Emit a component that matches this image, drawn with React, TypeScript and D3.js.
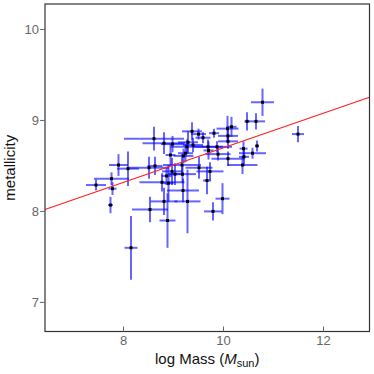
import React from 'react';
import { scaleLinear } from 'd3';

// log stellar mass, metallicity, and their errors
const logMass = [
  7.45, 7.76, 7.78, 7.74, 7.9, 8.09, 8.15, 8.51, 8.61, 8.53, 8.63, 8.81, 8.77, 8.81, 8.88,
  8.86, 8.9, 8.94, 8.98, 8.97, 9.03, 9.17, 9.18, 9.19, 9.2, 9.24, 9.27, 9.29, 9.28, 9.37,
  9.39, 9.5, 9.59, 9.51, 9.69, 9.7, 9.67, 9.73, 9.81, 9.87, 9.89, 9.79, 9.98, 10.08, 10.09,
  10.09, 10.09, 10.16, 10.38, 10.4, 10.41, 10.47, 10.58, 10.65, 10.67, 10.78, 11.49
];
const metallicity = [
  8.29, 8.36, 8.25, 8.07, 8.51, 8.47, 7.6, 8.48, 8.8, 8.02, 8.5, 8.75, 8.32, 8.11, 7.9,
  8.39, 8.31, 8.62, 8.74, 8.44, 8.41, 8.51, 8.41, 8.23, 8.61, 8.64, 8.71, 8.76, 8.11, 8.88,
  8.73, 8.85, 8.81, 8.48, 8.71, 8.67, 8.34, 8.44, 8.86, 8.71, 8.63, 8.0, 8.14, 8.91, 8.83,
  8.77, 8.58, 8.93, 8.51, 8.69, 8.6, 8.99, 8.64, 8.99, 8.72, 9.2, 8.85
];
const massErr = [
  0.2, 0.35, 0.08, 0.05, 0.19, 0.22, 0.13, 0.4, 0.6, 0.36, 0.15, 0.43, 0.45, 0.27, 0.16,
  0.1, 0.1, 0.1, 0.23, 0.2, 0.15, 0.38, 0.27, 0.32, 0.2, 0.15, 0.33, 0.2, 0.26, 0.2,
  0.2, 0.15, 0.15, 0.27, 0.3, 0.1, 0.08, 0.27, 0.1, 0.3, 0.25, 0.18, 0.14, 0.22, 0.2,
  0.2, 0.33, 0.1, 0.3, 0.08, 0.1, 0.05, 0.27, 0.18, 0.04, 0.23, 0.12
];
const metalErr = [
  0.06, 0.07, 0.07, 0.09, 0.12, 0.19, 0.35, 0.12, 0.13, 0.14, 0.1, 0.12, 0.1, 0.15, 0.3,
  0.1, 0.2, 0.12, 0.09, 0.15, 0.12, 0.12, 0.1, 0.13, 0.08, 0.1, 0.08, 0.12, 0.35, 0.1,
  0.08, 0.06, 0.06, 0.12, 0.08, 0.1, 0.15, 0.1, 0.05, 0.06, 0.07, 0.1, 0.17, 0.14, 0.08,
  0.08, 0.08, 0.11, 0.1, 0.08, 0.1, 0.1, 0.06, 0.09, 0.06, 0.15, 0.09
];

// fitted relation: metallicity = fitIntercept + fitSlope * logMass
const fitIntercept = 6.8;
const fitSlope = 0.19;

const xTicks = [8, 10, 12];
const yTicks = [7, 8, 9, 10];

const width = 374;
const height = 374;
const margin = { top: 4, right: 4.5, bottom: 42.5, left: 45 };

const App = () => {
  const x = scaleLinear()
    .domain([6.43, 12.92])
    .range([margin.left, width - margin.right]);
  const y = scaleLinear()
    .domain([6.68, 10.28])
    .range([height - margin.bottom, margin.top]);

  const [x0, x1] = x.domain();
  const points = logMass.map((m, i) => ({
    m,
    z: metallicity[i],
    dm: massErr[i],
    dz: metalErr[i]
  }));

  return (
    <div style={{ position: 'fixed', left: 0, top: 0 }}>
      <svg width={width} height={height} style={{ display: 'block', background: '#fff' }}>
        <g stroke="#0000ff" strokeOpacity={0.6} strokeWidth={2}>
          {points.map((p, i) => (
            <g key={i}>
              <line x1={x(p.m - p.dm)} x2={x(p.m + p.dm)} y1={y(p.z)} y2={y(p.z)} />
              <line x1={x(p.m)} x2={x(p.m)} y1={y(p.z - p.dz)} y2={y(p.z + p.dz)} />
            </g>
          ))}
        </g>
        <line
          x1={x(x0)}
          x2={x(x1)}
          y1={y(fitIntercept + fitSlope * x0)}
          y2={y(fitIntercept + fitSlope * x1)}
          stroke="#ff2020"
          strokeWidth={1.2}
        />
        <g fill="#000">
          {points.map((p, i) => (
            <rect key={i} x={x(p.m) - 1.5} y={y(p.z) - 1.5} width={3} height={3} />
          ))}
        </g>
        <rect
          x={margin.left}
          y={margin.top}
          width={width - margin.left - margin.right}
          height={height - margin.top - margin.bottom}
          fill="none"
          stroke="#333"
          strokeWidth={1.2}
        />
        <g fontFamily="Liberation Sans, Arial, sans-serif" fontSize={13} fill="#666">
          {xTicks.map(t => (
            <g key={t}>
              <line x1={x(t)} x2={x(t)} y1={y.range()[0]} y2={y.range()[0] - 5} stroke="#666" />
              <text x={x(t)} y={y.range()[0] + 13} textAnchor="middle">{t}</text>
            </g>
          ))}
          {yTicks.map(t => (
            <g key={t}>
              <line x1={margin.left} x2={margin.left - 5} y1={y(t)} y2={y(t)} stroke="#666" />
              <text x={margin.left - 6} y={y(t) + 4.5} textAnchor="end">{t}</text>
            </g>
          ))}
        </g>
        <g fontFamily="Liberation Sans, Arial, sans-serif" fontSize={15} fill="#111">
          <text x={(margin.left + width - margin.right) / 2} y={364} textAnchor="middle">
            log Mass (<tspan fontStyle="italic">M</tspan>
            <tspan fontSize={11} dy={3}>sun</tspan>
            <tspan dy={-3}>)</tspan>
          </text>
          <text
            transform={`translate(15, ${(margin.top + height - margin.bottom) / 2}) rotate(-90)`}
            textAnchor="middle"
          >
            metallicity
          </text>
        </g>
      </svg>
    </div>
  );
};

export default App;
